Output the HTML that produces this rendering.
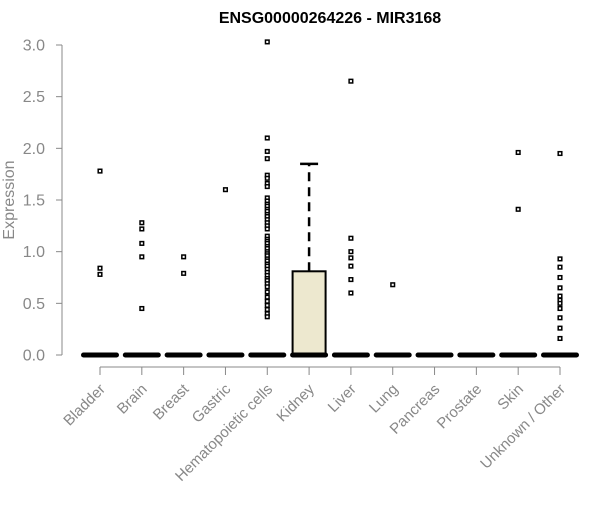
<!DOCTYPE html>
<html><head><meta charset="utf-8">
<style>
body{margin:0;background:#fff;}
svg text{font-family:"Liberation Sans",Arial,sans-serif;}
</style></head>
<body>
<svg id="chart" width="600" height="500" xmlns="http://www.w3.org/2000/svg">
<text x="330" y="23" text-anchor="middle" font-size="16" font-weight="bold">ENSG00000264226 - MIR3168</text>
<text x="14" y="200" text-anchor="middle" font-size="16" fill="#888" transform="rotate(-90 14 200)">Expression</text>
<g id="yaxis"></g>
<g id="xaxis"></g>
<g id="plot"></g>
</svg>
<script>
const categories=["Bladder","Brain","Breast","Gastric","Hematopoietic cells","Kidney","Liver","Lung","Pancreas","Prostate","Skin","Unknown / Other"];
const yTicks=[0,0.5,1,1.5,2,2.5,3];
const yTickLabels=["0.0","0.5","1.0","1.5","2.0","2.5","3.0"];
const boxQ1=[0,0,0,0,0,0,0,0,0,0,0,0];
const boxMedian=[0,0,0,0,0,0,0,0,0,0,0,0];
const boxQ3=[0,0,0,0,0,0.81,0,0,0,0,0,0];
const whiskerHigh=[0,0,0,0,0,1.85,0,0,0,0,0,0];
const outliers=[
 [1.78,0.84,0.78],
 [1.28,1.22,1.08,0.95,0.45],
 [0.95,0.79],
 [1.6],
 [3.03,2.10,1.97,1.90,1.74,1.71,1.66,1.63,1.52,1.49,1.46,1.44,1.41,1.39,1.36,1.34,1.31,1.28,1.25,1.22,1.15,1.12,1.10,1.08,1.05,1.03,1.0,0.98,0.96,0.93,0.91,0.88,0.86,0.83,0.80,0.77,0.74,0.72,0.69,0.66,0.61,0.56,0.52,0.48,0.44,0.40,0.37],
 [],
 [2.65,1.13,1.0,0.94,0.86,0.73,0.60],
 [0.68],
 [],
 [],
 [1.96,1.41],
 [1.95,0.93,0.85,0.75,0.65,0.57,0.53,0.50,0.45,0.36,0.26,0.16]
];
const NS="http://www.w3.org/2000/svg";
const y0=355,yTop=45,yMax=3;
function yS(v){return y0-(v/yMax)*(y0-yTop);}
const x0=100,x1=560;
function xS(i){return x0+i*(x1-x0)/(categories.length-1);}
function mk(tag,attrs,parent){const e=document.createElementNS(NS,tag);for(const k in attrs)e.setAttribute(k,attrs[k]);parent.appendChild(e);return e;}
const ya=document.getElementById('yaxis'),xa=document.getElementById('xaxis'),pl=document.getElementById('plot');
let l=mk('line',{x1:62,x2:62,y1:yS(0),y2:yS(3),stroke:'#888'},ya);


yTicks.forEach((v,i)=>{
 const t=mk('line',{x1:56,x2:62,y1:yS(v),y2:yS(v),stroke:'#888'},ya);
 
 
 const tx=mk('text',{x:45,y:yS(v)+5.5,'text-anchor':'end','font-size':16,fill:'#888'},ya);
 tx.textContent=yTickLabels[i];
 
 
});
l=mk('line',{x1:xS(0),x2:xS(categories.length-1),y1:367,y2:367,stroke:'#888'},xa);


categories.forEach((c,i)=>{
 const x=xS(i);
 const t=mk('line',{x1:x,x2:x,y1:367,y2:375,stroke:'#888'},xa);
 
 
 const tx=mk('text',{x:x+6,y:390,'text-anchor':'end','font-size':15,fill:'#888',transform:`rotate(-45 ${x+6} 390)`},xa);
 tx.textContent=c;
 
 
 const g=mk('g',{},pl);
 
 
 const hw=16.5;
 if(whiskerHigh[i]>boxQ3[i]){
  mk('line',{x1:x,x2:x,y1:yS(boxQ3[i]),y2:yS(whiskerHigh[i]),stroke:'#000','stroke-width':2.5,'stroke-dasharray':'9,6'},g);
  mk('line',{x1:x-9,x2:x+9,y1:yS(whiskerHigh[i]),y2:yS(whiskerHigh[i]),stroke:'#000','stroke-width':2.5},g);
 }
 if(boxQ3[i]>boxQ1[i]){
  mk('rect',{x:x-hw,y:yS(boxQ3[i]),width:hw*2,height:yS(boxQ1[i])-yS(boxQ3[i]),fill:'#ede8cf',stroke:'#000','stroke-width':2},g);
 }
 mk('line',{x1:x-hw,x2:x+hw,y1:yS(boxMedian[i]),y2:yS(boxMedian[i]),stroke:'#000','stroke-width':5,'stroke-linecap':'round'},g);
 outliers[i].forEach(v=>{
  const p=mk('rect',{x:x-1.8,y:yS(v)-1.8,width:3.6,height:3.6,fill:'#fff',stroke:'#000','stroke-width':1.5},g);
  
  
 });
});
</script>
</body></html>
